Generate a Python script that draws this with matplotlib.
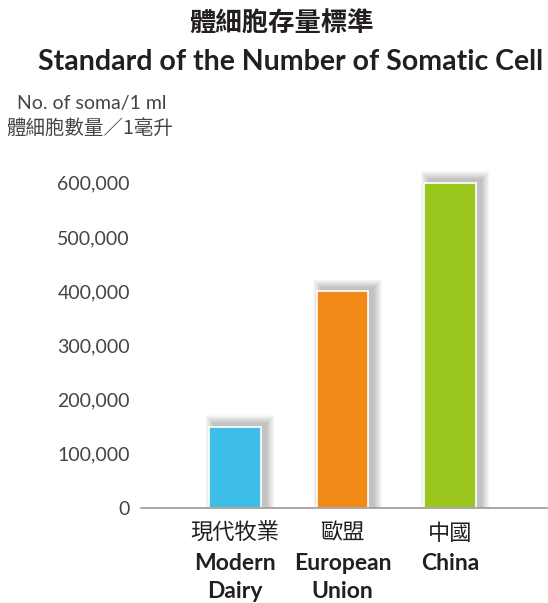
import numpy as np
import matplotlib.pyplot as plt

plt.rcParams['font.family'] = ['Lato', 'Noto Sans CJK TC', 'DejaVu Sans']

# 數據
cats_zh = ['現代牧業', '歐盟', '中國']
cats_en1 = ['Modern', 'European', 'China']
cats_en2 = ['Dairy', 'Union', '']
values = [150000, 400000, 600000]
colors = ['#3dbee6', '#f18a17', '#9bc61d']
yticks = [0, 100000, 200000, 300000, 400000, 500000, 600000]

fig = plt.figure(figsize=(5.48, 6.03), dpi=100)
ax = fig.add_axes([141 / 548, 95 / 603, 407 / 548, 348 / 603])

x = np.arange(len(values))
w = 0.48
px_x = 1 / 107.5      # one pixel in x data units
px_y = 100000 / 54.17  # one pixel in y data units

# 柔和陰影
for k in range(12, 0, -1):
    ax.bar(x + 5 * px_x, np.array(values) + (3 + 0.7 * k) * px_y,
           width=w + 1.4 * k * px_x, color='#3a3a3a', alpha=0.026,
           linewidth=0, zorder=1)

ax.bar(x, values, width=w, color=colors, edgecolor='white', linewidth=1.2, zorder=3)

ax.set_xlim(-0.874, 2.91)
ax.set_ylim(0, 642000)
ax.set_yticks(yticks)
ax.set_yticklabels([f'{v:,}' for v in yticks], fontsize=14, color='#444444')
ax.tick_params(axis='y', length=0, pad=8)
ax.tick_params(axis='x', length=0)
ax.set_xticks([])
for s in ['top', 'right', 'left']:
    ax.spines[s].set_visible(False)
ax.spines['bottom'].set_color('#9a9a9a')
ax.spines['bottom'].set_linewidth(1.2)
ax.spines['bottom'].set_zorder(4)

# x 軸標籤
for i in x:
    ax.text(i, -25 * px_y, cats_zh[i], ha='center', va='center', fontsize=16,
            color='#231f20', family=['Noto Sans CJK TC'])
    ax.text(i, -55 * px_y, cats_en1[i], ha='center', va='center', fontsize=16.5,
            fontweight='bold', color='#231f20')
    ax.text(i, -83 * px_y, cats_en2[i], ha='center', va='center', fontsize=16.5,
            fontweight='bold', color='#231f20')

# 標題
fig.text(281 / 548, 1 - 24 / 603, '體細胞存量標準', ha='center', va='center',
         fontsize=19, fontweight='bold', color='#231f20', family=['Noto Sans CJK TC'])
fig.text(291 / 548, 1 - 62 / 603, 'Standard of the Number of Somatic Cell',
         ha='center', va='center', fontsize=20.5, fontweight='bold', color='#231f20')
fig.text(92 / 548, 1 - 103 / 603, 'No. of soma/1 ml', ha='center', va='center',
         fontsize=14, color='#444444')
fig.text(90 / 548, 1 - 128 / 603, '體細胞數量／1毫升', ha='center', va='center',
         fontsize=14, color='#444444', family=['Noto Sans CJK TC'], fontweight='light')

fig.savefig('out.png', dpi=100)
